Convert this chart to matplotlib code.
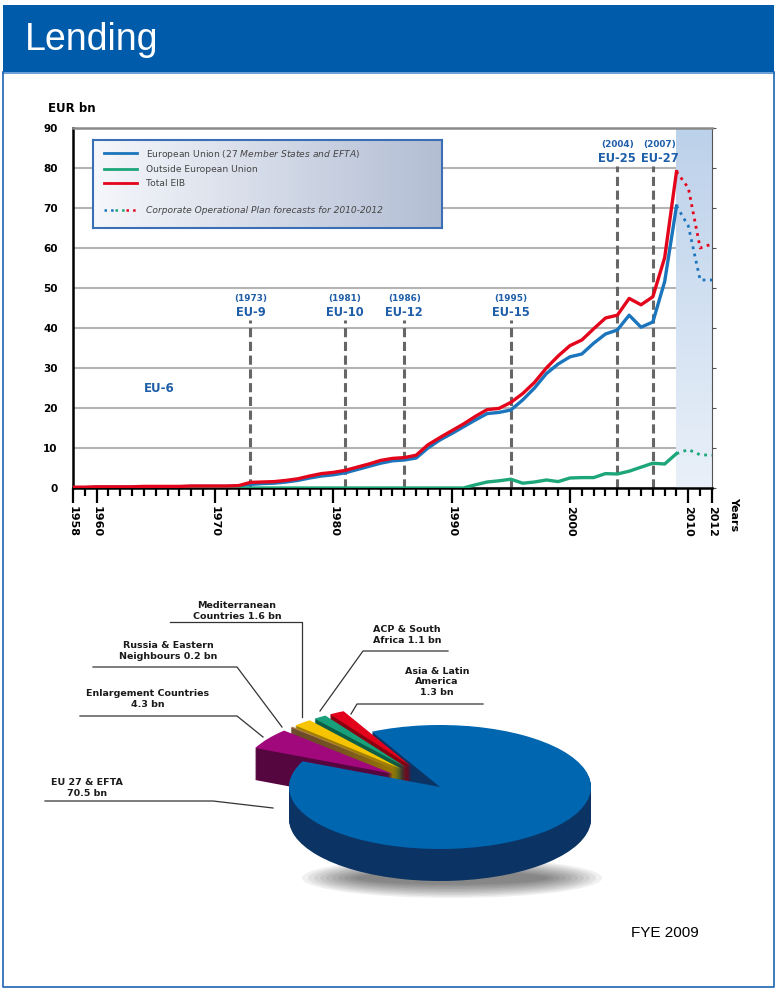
import numpy as np
import matplotlib.pyplot as plt
from matplotlib.patches import Rectangle, Ellipse
from matplotlib.lines import Line2D
from matplotlib.legend_handler import HandlerTuple
from matplotlib.colors import LinearSegmentedColormap
from matplotlib import font_manager

# EIB signatures, EUR bn, 1958-2009
years = np.arange(1958, 2010)
total_eib = [0.2, 0.2, 0.3, 0.3, 0.3, 0.3, 0.4, 0.4, 0.4, 0.4, 0.5, 0.5, 0.5, 0.5, 0.6,
             1.4, 1.5, 1.6, 1.9, 2.3, 3.0, 3.6, 3.9, 4.4, 5.2, 6.0, 6.9, 7.4, 7.6, 8.2,
             10.8, 12.6, 14.3, 16.0, 17.9, 19.6, 19.9, 21.4, 23.6, 26.4, 30.0, 33.0,
             35.6, 37.0, 39.8, 42.5, 43.2, 47.4, 45.8, 47.8, 57.6, 79.1]
eu_lending = [0.1, 0.1, 0.2, 0.2, 0.2, 0.2, 0.3, 0.3, 0.3, 0.3, 0.4, 0.4, 0.4, 0.4, 0.5,
              0.9, 1.1, 1.2, 1.5, 1.9, 2.5, 3.0, 3.3, 3.8, 4.6, 5.4, 6.2, 6.8, 7.0, 7.5,
              10.0, 12.0, 13.6, 15.3, 17.0, 18.6, 18.9, 19.5, 22.0, 25.0, 28.6, 31.0,
              32.8, 33.5, 36.2, 38.5, 39.5, 43.2, 40.2, 41.5, 51.6, 70.5]
outside_eu = [0.0] * 34 + [0.8, 1.5, 1.8, 2.2, 1.2, 1.5, 2.0, 1.6, 2.5, 2.6, 2.6, 3.6,
                           3.5, 4.2, 5.2, 6.2, 6.0, 8.6]

# Corporate Operational Plan forecasts
fc_years = [2009, 2010, 2011, 2012]
fc_total = [79.1, 75.0, 60.0, 61.0]
fc_eu = [70.5, 65.5, 52.0, 52.0]
fc_outside = [8.6, 9.6, 8.3, 8.2]

enlarge_years = [1973, 1981, 1986, 1995, 2004, 2007]
enlarge_names = ['EU-9', 'EU-10', 'EU-12', 'EU-15', 'EU-25', 'EU-27']

# 2009 lending by region, EUR bn
region_bn = [70.5, 1.3, 1.1, 1.6, 0.2, 4.3]
region_text = ['EU 27 & EFTA\n{} bn', 'Asia & Latin\nAmerica\n{} bn', 'ACP & South\nAfrica {} bn',
               'Mediterranean\nCountries {} bn', 'Russia & Eastern\nNeighbours {} bn',
               'Enlargement Countries\n{} bn']

BLUE = '#1b75bc'
RED = '#e3051b'
GREEN = '#1ea67b'
LABEL_BLUE = '#1f5ea8'
pie_top = ['#0066b0', '#e2001a', '#17a07a', '#f6c500', '#b0804e', '#a0087c']
pie_side = ['#0b3464', '#8a0010', '#0c5e46', '#a07e00', '#6b4a2a', '#55063f']

installed = {f.name for f in font_manager.fontManager.ttflist}
head_font = 'Liberation Sans Narrow' if 'Liberation Sans Narrow' in installed else 'Liberation Sans'
bold = dict(family='DejaVu Sans', weight='bold')

W, H = 776, 989
fig = plt.figure(figsize=(W / 100, H / 100), dpi=100)

# page furniture in pixel coordinates
bg = fig.add_axes([0, 0, 1, 1], zorder=0)
bg.set_xlim(0, W)
bg.set_ylim(H, 0)
bg.axis('off')
bg.add_patch(Rectangle((3, 5), 771, 67, facecolor='#005baa', edgecolor='none'))
bg.plot([3, 774], [73, 73], color='#4d8fd0', lw=1.2)
bg.plot([3, 3, 774, 774], [72, 987, 987, 72], color='#1d63b0', lw=1.2)
bg.text(25, 40, 'Lending', color='white', fontsize=27, family=head_font, va='center')
bg.text(665, 933, 'FYE 2009', fontsize=11, family='Liberation Sans', ha='center', va='center')
bg.text(48, 108, 'EUR bn', fontsize=8.5, va='center', **bold)

# ---- line chart ----
ax = fig.add_axes([73 / W, 1 - 488 / H, 639 / W, 360 / H], zorder=1)
ax.set_axisbelow(True)
ax.grid(axis='y', color='#b4b4b4', lw=1.5)
grad = LinearSegmentedColormap.from_list('fc', ['#e9f0f9', '#bcd1ea'])
ax.imshow(np.linspace(0, 1, 100).reshape(-1, 1), cmap=grad, origin='lower',
          extent=[2009, 2012, 0, 90], aspect='auto', zorder=1)

tops = [42, 42, 42, 42, 80.5, 80.5]
label_shift = [0, 0, 0, 0, 0, 0.6]
ax.vlines(enlarge_years, 0, tops, colors='#666666', linestyles=(0, (3, 1.5)), lw=2.2, zorder=1.5)
for yr, name, top, dx in zip(enlarge_years, enlarge_names, tops, label_shift):
    ax.text(yr + dx, top + 5.3, '({})'.format(yr), ha='center', va='center', fontsize=6.4,
            color=LABEL_BLUE, **bold)
    ax.text(yr + dx, top + 2.0, name, ha='center', va='center', fontsize=8.3, color=LABEL_BLUE, **bold)
ax.text(1965.3, 25, 'EU-6', ha='center', va='center', fontsize=8.5, color=LABEL_BLUE, **bold)

ax.plot(years, eu_lending, color=BLUE, lw=2.4, zorder=3)
ax.plot(years, outside_eu, color=GREEN, lw=2.4, zorder=3)
ax.plot(years, total_eib, color=RED, lw=2.4, zorder=3)
ax.plot(fc_years, fc_eu, color=BLUE, lw=2, ls=':', zorder=3)
ax.plot(fc_years, fc_outside, color=GREEN, lw=2, ls=':', zorder=3)
ax.plot(fc_years, fc_total, color=RED, lw=2, ls=':', zorder=3)

ax.set_xlim(1958, 2012)
ax.set_ylim(0, 90)
ax.set_yticks(np.arange(0, 91, 10))
ax.set_yticklabels([str(v) for v in range(0, 91, 10)], fontsize=7.5, fontweight='bold')
ax.tick_params(axis='y', left=False, right=True, length=3, color='#555555', pad=8)
ax.set_xticks([1958, 1960, 1970, 1980, 1990, 2000, 2010, 2012])
ax.set_xticks(np.arange(1958, 2013), minor=True)
ax.set_xticklabels(['1958', '1960', '1970', '1980', '1990', '2000', '2010', '2012'],
                   rotation=-90, fontsize=8, fontweight='bold')
ax.tick_params(axis='x', which='major', length=11, width=1.6, pad=2)
ax.tick_params(axis='x', which='minor', length=6, width=1.6)
ax.text(2013.9, -2.2, 'Years', rotation=-90, ha='center', va='top', fontsize=8, **bold)
for side in ['left', 'bottom']:
    ax.spines[side].set_linewidth(1.8)
ax.spines['top'].set_color('#8a8a8a')
ax.spines['top'].set_linewidth(1.8)
ax.spines['right'].set_color('#555555')

# legend panel
lx0, lx1 = (93 - 73) / 639, (442 - 73) / 639
ly0, ly1 = (488 - 228) / 360, (488 - 140) / 360
lax = ax.inset_axes([lx0, ly0, lx1 - lx0, ly1 - ly0], zorder=4)
lax.imshow(np.linspace(0, 1, 100).reshape(1, -1),
           cmap=LinearSegmentedColormap.from_list('lg', ['#f5f7fb', '#b3bed4']), aspect='auto')
lax.set_xticks([])
lax.set_yticks([])
for s in lax.spines.values():
    s.set_color('#3a6fb5')
    s.set_linewidth(1.5)

handles = [Line2D([], [], color=BLUE, lw=2), Line2D([], [], color=GREEN, lw=2),
           Line2D([], [], color=RED, lw=2), Line2D([], [], color='none'),
           (Line2D([], [], color=BLUE, lw=1.8, ls=':'), Line2D([], [], color=GREEN, lw=1.8, ls=':'),
            Line2D([], [], color=RED, lw=1.8, ls=':'))]
labels = [r'European Union ($\mathit{27\ Member\ States\ and\ EFTA}$)', 'Outside European Union',
          'Total EIB', '', 'Corporate Operational Plan forecasts for 2010-2012']
leg = ax.legend(handles, labels, loc='upper left', bbox_to_anchor=(0.042, 0.958), frameon=False,
                fontsize=6.6, handlelength=3.6, handletextpad=0.9, labelspacing=0.5,
                borderpad=0, handler_map={tuple: HandlerTuple(ndivide=None, pad=0)})
leg.set_zorder(6)
for t in leg.get_texts():
    t.set_color('#444444')
leg.get_texts()[-1].set_style('italic')

# ---- 3D-style pie ----
cx, cy, rx, ry, depth = 440, 787, 151, 62, 32
pax = fig.add_axes([230 / W, 1 - 910 / H, 390 / W, 220 / H], zorder=2)
for i in range(10):
    bg.add_patch(Ellipse((452, 878), 300 - i * 12, 40 - i * 3, color='black', alpha=0.06, lw=0))
start = 155.5
explode = [0, 0.38, 0.38, 0.38, 0.38, 0.38]
n = 40
for k in range(n):
    off = -(depth / ry) * (1 - k / n)
    pax.pie(region_bn, colors=pie_side, startangle=start, explode=explode, center=(0, off),
            wedgeprops=dict(linewidth=0))
pax.pie(region_bn, colors=pie_top, startangle=start, explode=explode, center=(0, 0),
        wedgeprops=dict(linewidth=0))
pax.set_aspect('auto')
pax.set_xlim((230 - cx) / rx, (620 - cx) / rx)
pax.set_ylim((cy - 910) / ry, (cy - 690) / ry)
pax.axis('off')

# region labels with leader lines
label_pos = [(87, 788), (437, 682), (407, 635), (237, 611), (168, 651), (148, 699)]
leaders = [([45, 213, 273], [801, 801, 808]),
           ([483, 357, 351], [704, 704, 714]),
           ([448, 363, 320], [651, 651, 711]),
           ([170, 302, 302], [622, 622, 717]),
           ([93, 237, 282], [667, 667, 727]),
           ([80, 237, 263], [716, 716, 737])]
for txt, v, (tx, ty), (lxs, lys) in zip(region_text, region_bn, label_pos, leaders):
    bg.text(tx, ty, txt.format(v), ha='center', va='center', fontsize=6.8,
            color='#1a1a1a', linespacing=1.15, **bold)
    bg.plot(lxs, lys, color='#333333', lw=0.9)

fig.savefig('out.png', dpi=100)
